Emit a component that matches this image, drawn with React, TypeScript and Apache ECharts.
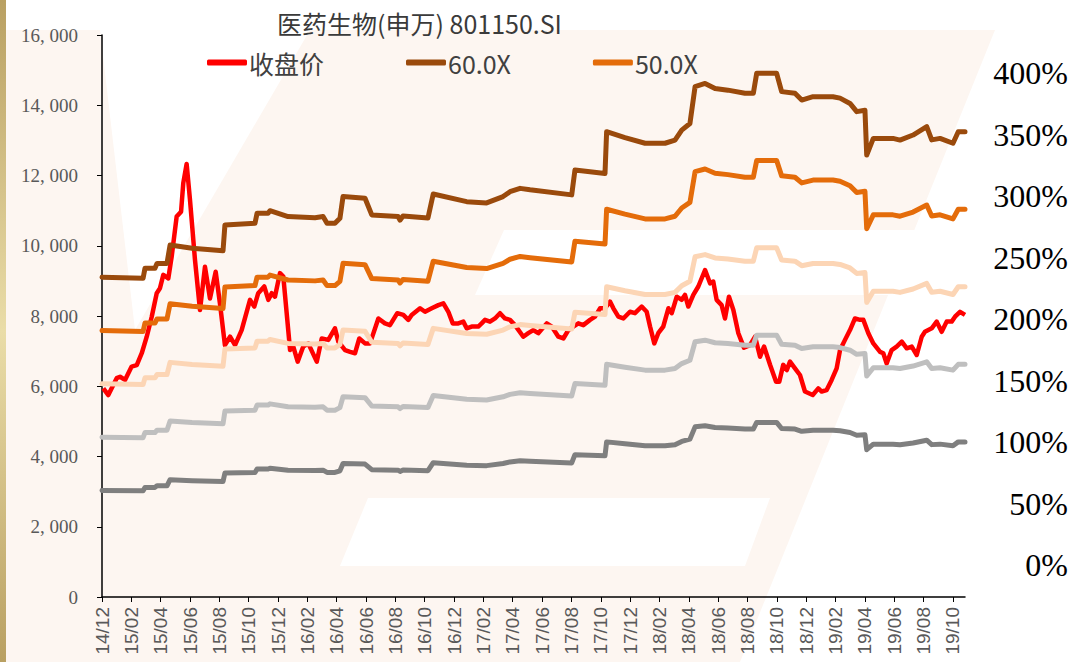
import React, { useEffect, useRef } from "react";
import * as echarts from "echarts";

// x values are months since 2014-12-01
const tickLabels = [
  "14/12", "15/02", "15/04", "15/06", "15/08", "15/10", "15/12", "16/02", "16/04", "16/06",
  "16/08", "16/10", "16/12", "17/02", "17/04", "17/06", "17/08", "17/10", "17/12", "18/02",
  "18/04", "18/06", "18/08", "18/10", "18/12", "19/02", "19/04", "19/06", "19/08", "19/10",
];

const closePrice: [number, number][] = [
  [0.09, 5940], [0.43, 5750], [1.0, 6230], [1.23, 6270], [1.57, 6180], [2.02, 6560], [2.37, 6600],
  [2.71, 6940], [3.05, 7410], [3.39, 7980], [3.73, 8650], [3.95, 8790], [4.18, 9170], [4.52, 9070],
  [4.75, 9690], [5.09, 10830], [5.39, 10970], [5.54, 11780], [5.77, 12330], [6.0, 11300], [6.34, 9590],
  [6.68, 8170], [7.02, 9400], [7.36, 8500], [7.75, 9260], [8.04, 8360], [8.38, 7170], [8.73, 7410],
  [9.07, 7170], [9.52, 7600], [10.09, 8460], [10.38, 8270], [10.65, 8650], [11.06, 8840], [11.34, 8460],
  [11.57, 8650], [11.79, 8550], [12.13, 9220], [12.36, 9120], [12.82, 7030], [13.04, 7130], [13.34, 6700],
  [13.72, 7130], [14.06, 7220], [14.64, 6700], [14.98, 7360], [15.43, 7320], [15.88, 7650], [16.11, 7270],
  [16.57, 7030], [16.91, 6980], [17.25, 6940], [17.54, 7360], [17.93, 7220], [18.27, 7220], [18.84, 7930],
  [19.29, 7790], [19.63, 7740], [20.13, 8080], [20.54, 8030], [20.88, 7890], [21.11, 8030], [21.68, 8220],
  [22.02, 8120], [22.48, 8220], [22.93, 8310], [23.27, 8360], [23.61, 8120], [23.91, 7790], [24.29, 7790],
  [24.63, 7840], [24.86, 7650], [25.2, 7700], [25.65, 7700], [25.88, 7790], [26.11, 7890], [26.45, 7840],
  [26.79, 7930], [27.13, 8080], [27.47, 7930], [27.81, 7890], [28.15, 7740], [28.72, 7410], [29.06, 7510],
  [29.4, 7600], [29.74, 7510], [30.32, 7790], [30.66, 7700], [31.11, 7410], [31.45, 7360], [31.79, 7600],
  [32.13, 7700], [32.47, 7790], [32.81, 7740], [33.27, 7890], [33.61, 7980], [33.95, 8220], [34.29, 8220],
  [34.63, 8410], [34.86, 8220], [35.2, 7980], [35.54, 7930], [35.99, 8120], [36.33, 8080], [36.79, 8270],
  [37.13, 8120], [37.36, 7700], [37.65, 7220], [37.92, 7510], [38.26, 7700], [38.61, 8220], [38.84, 8080],
  [39.18, 8550], [39.52, 8460], [39.74, 8600], [39.97, 8270], [40.31, 8600], [40.65, 8840], [41.11, 9310],
  [41.45, 8930], [41.67, 8980], [41.9, 8460], [42.24, 8310], [42.47, 7930], [42.74, 8550], [43.04, 8170],
  [43.38, 7510], [43.76, 7100], [44.17, 7170], [44.52, 7410], [44.86, 6840], [45.13, 7130], [45.54, 6610],
  [45.95, 6130], [46.17, 6130], [46.44, 6610], [46.68, 6460], [46.9, 6700], [47.24, 6510], [47.58, 6320],
  [47.92, 5850], [48.45, 5750], [48.83, 5940], [49.06, 5850], [49.4, 5890], [49.74, 6180], [50.08, 6510],
  [50.31, 7030], [50.65, 7320], [50.99, 7600], [51.33, 7930], [51.67, 7890], [51.9, 7890], [52.24, 7510],
  [52.58, 7220], [53.04, 6980], [53.26, 6940], [53.49, 6650], [53.83, 7030], [54.17, 7130], [54.52, 7270],
  [54.86, 7080], [55.2, 7130], [55.54, 6890], [55.88, 7410], [56.1, 7550], [56.56, 7650], [56.9, 7840],
  [57.24, 7550], [57.58, 7840], [57.92, 7840], [58.15, 7980], [58.49, 8120], [58.83, 8030],
];

// trailing EPS (index points), PE bands = EPS x multiple
const epsTTM: [number, number][] = [
  [0, 151.7], [2.8, 151.2], [2.93, 156.0], [3.61, 156.0], [3.75, 158.3], [4.43, 158.3], [4.64, 167.0],
  [6.14, 165.5], [8.25, 164.3], [8.38, 176.5], [10.43, 177.3], [10.57, 182.1], [11.32, 182.1], [11.45, 183.3],
  [12.68, 180.5], [14.52, 180.0], [15.07, 180.5], [15.34, 177.3], [15.88, 177.3], [16.22, 179.7], [16.43, 190.0],
  [17.93, 189.2], [18.39, 181.3], [20.18, 180.5], [20.32, 178.8], [20.52, 180.8], [22.22, 179.8], [22.58, 191.2],
  [24.86, 187.6], [26.22, 187.0], [27.34, 190.0], [27.81, 192.3], [28.5, 193.9], [29.18, 193.2], [32.02, 190.8],
  [32.24, 202.6], [34.29, 201.0], [34.4, 220.8], [35.65, 218.0], [37.02, 215.3], [38.38, 215.3], [39.06, 216.8],
  [39.52, 221.5], [40.08, 224.7], [40.43, 242.2], [41.11, 243.7], [41.79, 241.3], [42.67, 240.5], [43.83, 239.0],
  [44.4, 239.0], [44.63, 248.5], [45.99, 248.5], [46.33, 239.8], [47.24, 239.0], [47.7, 235.8], [48.47, 237.4],
  [49.83, 237.4], [50.31, 236.7], [50.99, 234.2], [51.45, 230.3], [52.01, 231.0], [52.13, 209.7], [52.58, 217.6],
  [53.92, 217.6], [54.4, 216.8], [55.29, 219.2], [56.22, 223.2], [56.56, 216.9], [57.13, 217.6], [58.01, 215.3],
  [58.37, 220.8], [58.83, 220.8],
];

const peMultiples = [60, 50, 40, 30, 20];
const bandNames = ["60.0X", "50.0X", "40.0X", "30.0X", "20.0X"];
const bandColors = ["#9A4A0C", "#E46C0A", "#FCD5B5", "#BFBFBF", "#7F7F7F"];
const legendNames = ["收盘价", "60.0X", "50.0X"];
const titleText = "医药生物(申万) 801150.SI";

const peach = "#FDF6F1";

export default function App() {
  const ref = useRef<HTMLDivElement>(null);
  useEffect(() => {
    if (!ref.current) return;
    const chart = echarts.init(ref.current, null, { renderer: "svg" });
    const tickValues = tickLabels.map((_, i) => i * 2);
    const bandSeries = peMultiples.map((m, i) => ({
      name: bandNames[i],
      type: "line",
      xAxisIndex: 0,
      yAxisIndex: 0,
      symbol: "none",
      data: epsTTM.map(([x, e]) => [x, Math.round(e * m)]),
      lineStyle: { color: bandColors[i], width: 5, join: "round", cap: "round" },
      itemStyle: { color: bandColors[i] },
      z: 3,
    }));
    chart.setOption({
      animation: false,
      backgroundColor: "#ffffff",
      title: {
        text: titleText,
        left: 277,
        top: 10,
        padding: 0,
        textStyle: { fontFamily: "Noto Sans CJK SC", fontSize: 25, fontWeight: "normal", color: "#3a3a3a" },
      },
      legend: {
        data: legendNames,
        left: 207,
        top: 50,
        padding: 0,
        itemGap: 82,
        itemWidth: 40,
        itemHeight: 6,
        icon: "roundRect",
        textStyle: { fontFamily: "Noto Sans CJK SC", fontSize: 25, color: "#404040", padding: [0, 0, 0, -3] },
      },
      graphic: [
        { type: "polygon", silent: true, z: -10, shape: { points: [[6, 30], [995, 30], [740, 662], [6, 662]] }, style: { fill: peach } },
        { type: "polygon", silent: true, z: -9, shape: { points: [[100, 30], [310, 30], [135, 330]] }, style: { fill: "#ffffff" } },
        { type: "polygon", silent: true, z: -9, shape: { points: [[504, 230], [995, 230], [975, 295], [475, 295]] }, style: { fill: "#ffffff" } },
        { type: "polygon", silent: true, z: -9, shape: { points: [[368, 498], [770, 498], [745, 566], [340, 566]] }, style: { fill: "#ffffff" } },
        {
          type: "rect", silent: true, z: -8,
          shape: { x: 0, y: 0, width: 6, height: 662 },
          style: {
            fill: new echarts.graphic.LinearGradient(0, 0, 0, 1, [
              { offset: 0, color: "#B9A062" },
              { offset: 0.5, color: "#EADDA8" },
              { offset: 1, color: "#B9A062" },
            ]),
          },
        },
      ],
      grid: [
        { left: 102, right: 104, top: 35, bottom: 65, outerBoundsMode: "none", containLabel: false },
        { left: 975, right: 1, top: 73, bottom: 97, outerBoundsMode: "none", containLabel: false },
      ],
      xAxis: [
        {
          type: "value",
          gridIndex: 0,
          min: 0,
          max: 58.83,
          interval: 2,
          splitLine: { show: false },
          axisLine: { show: true, lineStyle: { color: "#000", width: 1.5 } },
          axisTick: { show: true, length: 5, customValues: tickValues, lineStyle: { color: "#000" } },
          axisLabel: {
            customValues: tickValues,
            rotate: 90,
            margin: 10,
            fontFamily: "Liberation Sans",
            fontSize: 19,
            color: "#595959",
            formatter: (v: number) => tickLabels[Math.round(v / 2)] ?? "",
          },
        },
        { type: "value", gridIndex: 1, show: false, min: 0, max: 1 },
      ],
      yAxis: [
        {
          type: "value",
          gridIndex: 0,
          min: 0,
          max: 16000,
          interval: 2000,
          splitLine: { show: false },
          axisLine: { show: true, lineStyle: { color: "#000", width: 1.5 } },
          axisTick: { show: true, length: 5, lineStyle: { color: "#000" } },
          axisLabel: {
            margin: 24,
            fontFamily: "Liberation Serif",
            fontSize: 19,
            color: "#595959",
            formatter: (v: number) => String(v).replace(/\B(?=(\d{3})+(?!\d))/g, ", "),
          },
        },
        {
          type: "value",
          gridIndex: 1,
          position: "right",
          min: 0,
          max: 400,
          interval: 50,
          splitLine: { show: false },
          axisLine: { show: false },
          axisTick: { show: false },
          axisLabel: {
            margin: 0,
            align: "right",
            fontFamily: "Liberation Serif",
            fontSize: 32,
            color: "#000",
            formatter: "{value}%",
          },
        },
      ],
      series: [
        {
          name: "收盘价",
          type: "line",
          xAxisIndex: 0,
          yAxisIndex: 0,
          symbol: "none",
          data: closePrice,
          lineStyle: { color: "#FF0000", width: 4.5, join: "round" },
          itemStyle: { color: "#FF0000" },
          z: 2,
        },
        ...bandSeries,
      ],
    });
    return () => chart.dispose();
  }, []);
  return (
    <div
      ref={ref}
      style={{ position: "fixed", left: 0, top: 0, width: 1069, height: 662 }}
    />
  );
}
